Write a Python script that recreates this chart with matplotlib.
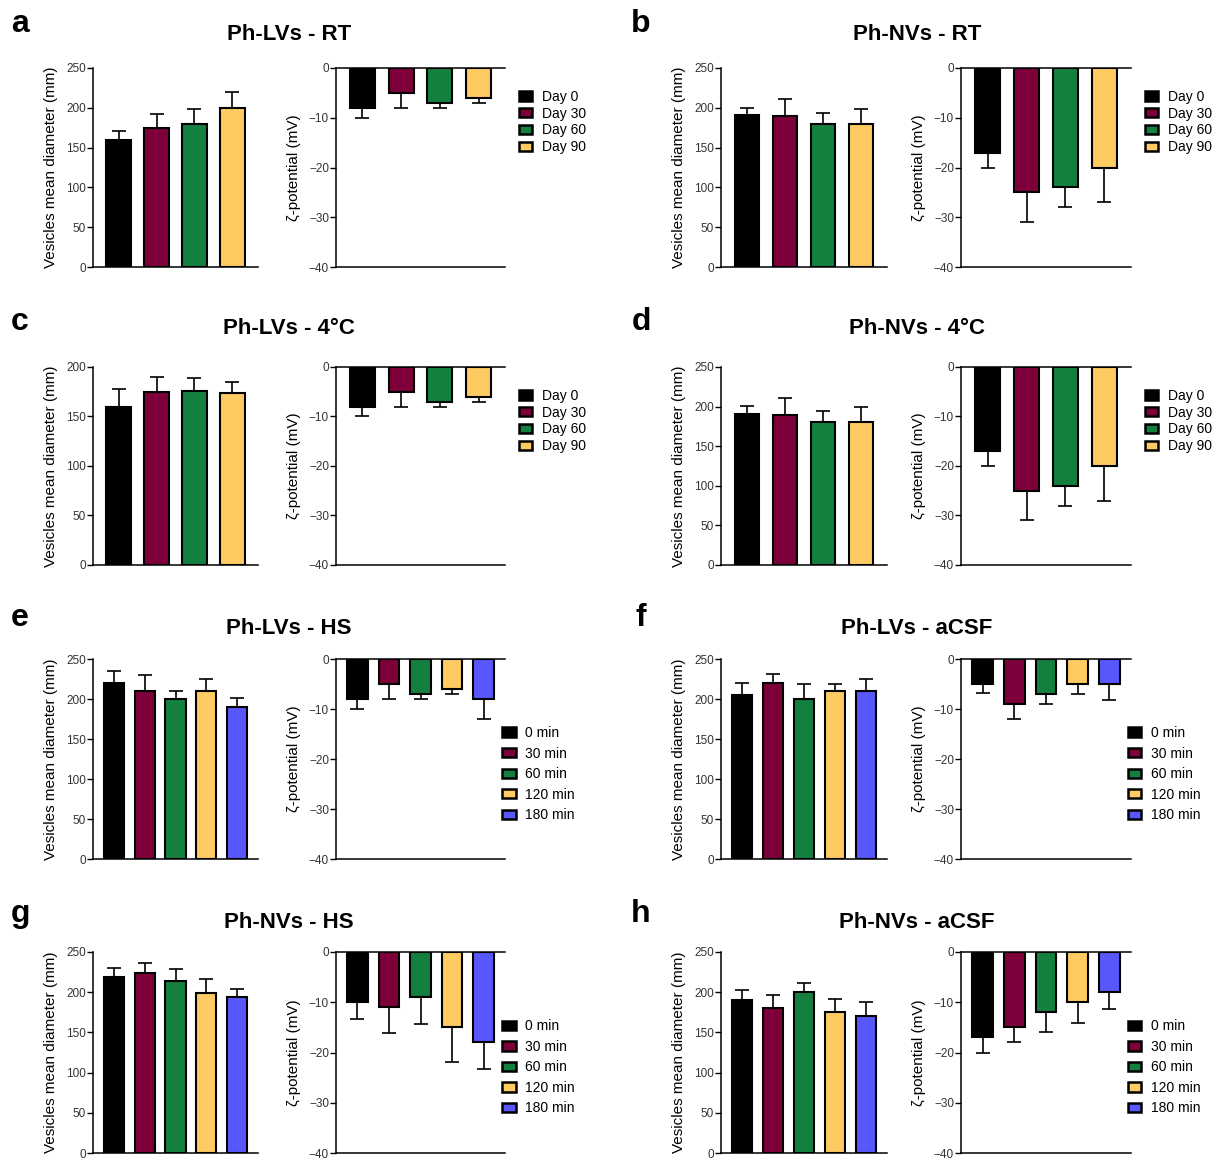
import numpy as np
import matplotlib
matplotlib.use("Agg")
import matplotlib.pyplot as plt
from matplotlib.patches import Patch

plt.rcParams['font.family'] = ['Liberation Sans', 'DejaVu Sans']

# categories
days = ['Day 0', 'Day 30', 'Day 60', 'Day 90']
mins = ['0 min', '30 min', '60 min', '120 min', '180 min']
colors = ['#000000', '#7d003a', '#14803f', '#fdcb62', '#5757fb']

# panel letters / titles
letters = ['a', 'b', 'c', 'd', 'e', 'f', 'g', 'h']
titles = ['Ph-LVs - RT', 'Ph-NVs - RT', 'Ph-LVs - 4°C', 'Ph-NVs - 4°C',
          'Ph-LVs - HS', 'Ph-LVs - aCSF', 'Ph-NVs - HS', 'Ph-NVs - aCSF']

# vesicles mean diameter (mean, SD)
diam_a = [160, 175, 180, 200];      diam_a_sd = [11, 17, 18, 20]
diam_b = [191, 190, 180, 180];      diam_b_sd = [9, 21, 13, 18]
diam_c = [160, 175, 176, 174];      diam_c_sd = [18, 15, 13, 11]
diam_d = [191, 190, 180, 180];      diam_d_sd = [10, 21, 14, 19]
diam_e = [220, 210, 200, 210, 190]; diam_e_sd = [15, 20, 10, 15, 11]
diam_f = [205, 220, 200, 210, 210]; diam_f_sd = [15, 11, 19, 9, 15]
diam_g = [219, 224, 214, 199, 194]; diam_g_sd = [11, 12, 15, 17, 10]
diam_h = [190, 180, 200, 175, 170]; diam_h_sd = [13, 17, 12, 16, 18]

# zeta potential (mean, SD)
zeta_a = [-8, -5, -7, -6];          zeta_a_sd = [2, 3, 1, 1]
zeta_b = [-17, -25, -24, -20];      zeta_b_sd = [3, 6, 4, 7]
zeta_c = [-8, -5, -7, -6];          zeta_c_sd = [2, 3, 1, 1]
zeta_d = [-17, -25, -24, -20];      zeta_d_sd = [3, 6, 4, 7]
zeta_e = [-8, -5, -7, -6, -8];      zeta_e_sd = [2, 3, 1, 1, 4]
zeta_f = [-5, -9, -7, -5, -5];      zeta_f_sd = [1.7, 3, 2, 2, 3.1]
zeta_g = [-10, -11, -9, -15, -18];  zeta_g_sd = [3.3, 5.1, 5.3, 6.8, 5.2]
zeta_h = [-17, -15, -12, -10, -8];  zeta_h_sd = [3, 3, 4, 4.2, 3.4]

diam = [diam_a, diam_b, diam_c, diam_d, diam_e, diam_f, diam_g, diam_h]
diam_sd = [diam_a_sd, diam_b_sd, diam_c_sd, diam_d_sd,
           diam_e_sd, diam_f_sd, diam_g_sd, diam_h_sd]
zeta = [zeta_a, zeta_b, zeta_c, zeta_d, zeta_e, zeta_f, zeta_g, zeta_h]
zeta_sd = [zeta_a_sd, zeta_b_sd, zeta_c_sd, zeta_d_sd,
           zeta_e_sd, zeta_f_sd, zeta_g_sd, zeta_h_sd]
groups = [days, days, days, days, mins, mins, mins, mins]
diam_top = [250, 250, 200, 250, 250, 250, 250, 250]

W, H = 1225, 1167
fig = plt.figure(figsize=(W / 100, H / 100), dpi=100)

# pixel layout
col_d = [(93, 165), (721, 166)]
col_z = [(336, 169), (961, 170)]
rows = [(68, 267), (367, 565), (659, 859), (952, 1153)]
title_y = [35, 328, 628, 922]
letter_y = [24, 322, 618, 914]
letter_x = [20, 641]
title_x = [289, 917]


def px_axes(x0, w, top, bottom):
    return fig.add_axes([x0 / W, 1 - bottom / H, w / W, (bottom - top) / H])


def style(ax):
    ax.tick_params(axis='y', direction='out', length=4, width=1,
                   labelsize=8.5, labelcolor='#333333', pad=1)
    ax.tick_params(axis='x', bottom=False, top=False, labelbottom=False)
    for s in ax.spines.values():
        s.set_linewidth(1.1)
    ax.spines['right'].set_visible(False)


for i in range(8):
    r, c = divmod(i, 2)
    top, bottom = rows[r]
    cats = groups[i]
    n = len(cats)
    x = np.arange(n)
    xlim = (-0.68, n - 1 + 0.68)

    # diameter
    ax = px_axes(col_d[c][0], col_d[c][1], top, bottom)
    ax.bar(x, diam[i], width=0.65, color=colors[:n], edgecolor='black',
           linewidth=1.5, zorder=3)
    ax.errorbar(x, diam[i], yerr=[np.zeros(n), diam_sd[i]], fmt='none',
                ecolor='black', elinewidth=1.2, capsize=5, capthick=1.2, zorder=2)
    ax.set_xlim(*xlim)
    ax.set_ylim(0, diam_top[i])
    ax.set_yticks(np.arange(0, diam_top[i] + 1, 50))
    ax.spines['top'].set_visible(False)
    style(ax)
    ax.set_ylabel('Vesicles mean diameter (mm)', fontsize=11, labelpad=6)

    # zeta
    az = px_axes(col_z[c][0], col_z[c][1], top, bottom)
    az.bar(x, zeta[i], width=0.65, color=colors[:n], edgecolor='black',
           linewidth=1.5, zorder=3)
    az.errorbar(x, zeta[i], yerr=[zeta_sd[i], np.zeros(n)], fmt='none',
                ecolor='black', elinewidth=1.2, capsize=5, capthick=1.2, zorder=2)
    az.set_xlim(*xlim)
    az.set_ylim(-40, 0)
    az.set_yticks(np.arange(-40, 1, 10))
    style(az)
    az.set_ylabel('ζ-potential (mV)', fontsize=11, labelpad=6)

    handles = [Patch(facecolor=colors[k], edgecolor='black', linewidth=1.8)
               for k in range(n)]
    if n == 4:
        az.legend(handles, cats, loc='upper left', bbox_to_anchor=(1.08, 0.89),
                  frameon=False, fontsize=10, handlelength=1.0, handleheight=0.65,
                  handletextpad=0.7, labelspacing=0.2, borderaxespad=0,
                  borderpad=0)
    else:
        az.legend(handles, cats, loc='upper left', bbox_to_anchor=(0.98, 0.665),
                  frameon=False, fontsize=10, handlelength=1.0, handleheight=0.65,
                  handletextpad=0.7, labelspacing=0.47, borderaxespad=0,
                  borderpad=0)

    fig.text(title_x[c] / W, 1 - title_y[r] / H, titles[i], ha='center',
             va='center', fontsize=16, fontweight='bold')
    fig.text(letter_x[c] / W, 1 - letter_y[r] / H, letters[i], ha='center',
             va='center', fontsize=23, fontweight='bold')

fig.savefig('out.png', dpi=100, facecolor='white')
